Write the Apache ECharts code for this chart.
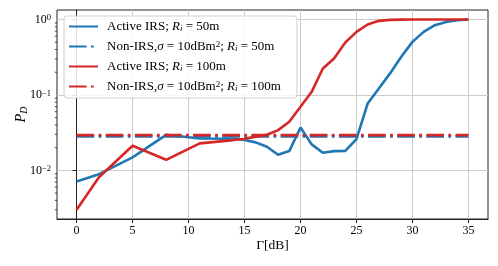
<!DOCTYPE html>
<html><head><meta charset="utf-8">
<script src="https://cdn.jsdelivr.net/npm/echarts@6/dist/echarts.min.js"></script>
<style>html,body{margin:0;padding:0;background:#fff}#c{width:498px;height:266px}</style>
</head><body><div id="c"></div>
<script>
const gammaDB = [0,2,5,8,11,14,15,16,17,18,19,20,21,22,23,24,25,26,27,28,29,30,31,32,33,34,35];
const activeIRS50 = [0.0071,0.0089,0.0149,0.0296,0.0264,0.0262,0.0252,0.0235,0.0206,0.0161,0.018,0.037,0.0221,0.0171,0.018,0.0181,0.026,0.077,0.122,0.193,0.32,0.505,0.686,0.84,0.93,0.98,1.0];
const activeIRS100 = [0.003,0.0081,0.0212,0.0138,0.0228,0.0252,0.0263,0.028,0.0296,0.0342,0.044,0.0697,0.11,0.224,0.304,0.496,0.686,0.859,0.96,0.99,0.998,1,1,1,1,1,1];
const nonIRSx = [0, 35];
const nonIRS50 = [0.0282, 0.0282];
const nonIRS100 = [0.0293, 0.0293];
const xTicks = [0,5,10,15,20,25,30,35];
const yTicks = [0.01, 0.1, 1];
const yTickLabels = ['{b|10}{sup|−2}', '{b|10}{sup|−1}', '{b|10}{sup|0}'];
const yMinorTicks = [0.003,0.004,0.005,0.006,0.007,0.008,0.009,0.02,0.03,0.04,0.05,0.06,0.07,0.08,0.09,0.2,0.3,0.4,0.5,0.6,0.7,0.8,0.9];
const seriesNames = ['Active IRS; R_i = 50m','Non-IRS,σ = 10dBm2; R_i = 50m','Active IRS; R_i = 100m','Non-IRS,σ = 10dBm2; R_i = 100m'];
const legendLabels = [
  'Active IRS; {it|R}{sub|i} {r|= 50m}',
  'Non-IRS,{it|σ} {r|= 10dBm}{sup|2}{r|;} {it|R}{sub|i} {r|= 50m}',
  'Active IRS; {it|R}{sub|i} {r|= 100m}',
  'Non-IRS,{it|σ} {r|= 10dBm}{sup|2}{r|;} {it|R}{sub|i} {r|= 100m}'
];
const BLUE = '#1f77b4', RED = '#d62728';
const FONT = 'Liberation Serif';
const dashDot = [17.6, 4.4, 2.75, 4.4];

const pair = (xs, ys) => xs.map((x, i) => [x, ys[i]]);
const chart = echarts.init(document.getElementById('c'));
const LF = 13;
const rich = {
  r: {fontFamily: FONT, fontSize: LF, color: '#000'},
  it: {fontFamily: FONT, fontSize: LF, fontStyle: 'italic', color: '#000'},
  sub: {fontFamily: FONT, fontSize: 9, fontStyle: 'italic', color: '#000', verticalAlign: 'bottom', lineHeight: 10},
  sup: {fontFamily: FONT, fontSize: 9, color: '#000', verticalAlign: 'top', lineHeight: 10}
};
chart.setOption({
  animation: false,
  backgroundColor: '#fff',
  grid: {left: 57, right: 10, top: 10, bottom: 47, containLabel: false, outerBoundsMode: 'none',
    show: true, borderColor: '#222', borderWidth: 1, backgroundColor: 'transparent'},
  legend: {
    data: seriesNames, orient: 'vertical', left: 64, top: 16,
    itemWidth: 29, itemHeight: 14, itemGap: 7, padding: [4, 16, 5, 4],
    backgroundColor: 'rgba(255,255,255,0.85)', borderColor: '#d0d0d0', borderWidth: 1, borderRadius: 3,
    itemStyle: {opacity: 0},
    formatter: name => legendLabels[seriesNames.indexOf(name)],
    textStyle: {fontFamily: FONT, fontSize: LF, color: '#000', padding: [0, 0, 0, 4], rich: rich}
  },
  xAxis: {
    type: 'value', min: -1.75, max: 36.75, splitNumber: 8,
    name: 'Γ[dB]', nameLocation: 'middle', nameGap: 19, nameMoveOverlap: false,
    nameTextStyle: {fontFamily: FONT, fontSize: 13.5, color: '#000'},
    axisLine: {lineStyle: {color: '#222', width: 1}},
    axisTick: {customValues: xTicks, length: 4, lineStyle: {color: '#222'}},
    axisLabel: {customValues: xTicks, margin: 6, fontFamily: FONT, fontSize: 12, color: '#000'},
    splitLine: {show: true, lineStyle: {color: '#cccccc', width: 1}}
  },
  yAxis: {
    type: 'log', logBase: 10, min: 0.002265, max: 1.337,
    name: '{it|P}{sub|D}', nameLocation: 'middle', nameGap: 28, nameRotate: 90, nameMoveOverlap: false,
    nameTextStyle: {rich: {
      it: {fontFamily: FONT, fontSize: 14.5, fontStyle: 'italic', color: '#000'},
      sub: {fontFamily: FONT, fontSize: 10, fontStyle: 'italic', color: '#000', verticalAlign: 'bottom', lineHeight: 12}
    }},
    axisLine: {show: true, lineStyle: {color: '#222', width: 1}},
    axisTick: {show: true, customValues: yTicks, length: 4, lineStyle: {color: '#222'}},
    axisLabel: {customValues: yTicks, margin: 6,
      formatter: v => { const i = yTicks.findIndex(t => Math.abs(t - v) / t < 1e-6); return i >= 0 ? yTickLabels[i] : ''; },
      rich: {
        b: {fontFamily: FONT, fontSize: 12, color: '#000'},
        sup: {fontFamily: FONT, fontSize: 8.5, color: '#000', verticalAlign: 'top', lineHeight: 9}
      }},
    splitLine: {show: true, lineStyle: {color: '#cccccc', width: 1}}
  },
  series: [
    {name: seriesNames[0], type: 'line', data: pair(gammaDB, activeIRS50), symbol: 'none', lineStyle: {color: BLUE, width: 2.6}, itemStyle: {color: BLUE}, z: 3},
    {name: seriesNames[1], type: 'line', data: pair(nonIRSx, nonIRS50), symbol: 'none', lineStyle: {color: BLUE, width: 2.75, type: dashDot, cap: 'butt'}, itemStyle: {color: BLUE}, z: 4},
    {name: seriesNames[2], type: 'line', data: pair(gammaDB, activeIRS100), symbol: 'none', lineStyle: {color: RED, width: 2.6}, itemStyle: {color: RED}, z: 5},
    {name: seriesNames[3], type: 'line', data: pair(nonIRSx, nonIRS100), symbol: 'none', lineStyle: {color: RED, width: 2.75, type: dashDot, cap: 'butt'}, itemStyle: {color: RED}, z: 6},
    {type: 'custom', silent: true, data: yMinorTicks.map(v => [0, v]), clip: false,
      renderItem: (params, api) => {
        const p = api.coord([api.value(0), api.value(1)]);
        const x0 = params.coordSys.x;
        return {type: 'line', shape: {x1: x0 - 2.2, y1: p[1], x2: x0, y2: p[1]}, style: {stroke: '#222', lineWidth: 0.8}};
      }, z: 2}
  ]
});
</script></body></html>
